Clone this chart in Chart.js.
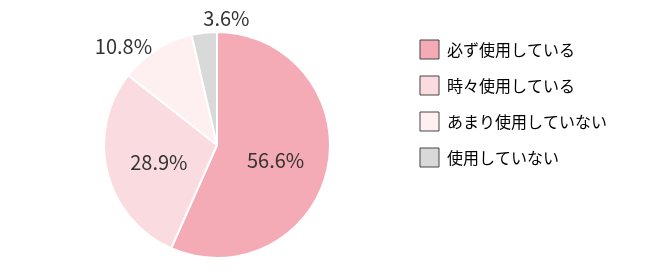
<!DOCTYPE html>
<html>
<head>
<meta charset="utf-8">
<script src="https://cdn.jsdelivr.net/npm/chart.js@4"></script>
<style>
  html, body { margin: 0; padding: 0; background: #fff; }
  #wrap { width: 650px; height: 274px; }
</style>
</head>
<body>
<div id="wrap"><canvas id="chart"></canvas></div>
<script>
const labels = ['必ず使用している', '時々使用している', 'あまり使用していない', '使用していない'];
const shares = [56.6, 28.9, 10.8, 3.6];
const colors = ['#f5abb6', '#fadbe0', '#fef0f1', '#d9d9d9'];

const FONT = '"Noto Sans CJK JP", "Noto Sans", sans-serif';

// draws the percentage text on / beside each slice
const sliceLabels = {
  id: 'sliceLabels',
  afterDatasetsDraw(chart) {
    const { ctx } = chart;
    const meta = chart.getDatasetMeta(0);
    ctx.save();
    ctx.font = '20px ' + FONT;
    ctx.fillStyle = '#333';
    meta.data.forEach((arc, i) => {
      const mid = (arc.startAngle + arc.endAngle) / 2;
      const r = arc.outerRadius;
      const big = shares[i] > 20;
      const dist = big ? r * 0.53 : r + 8;
      const x = arc.x + Math.cos(mid) * dist;
      const y = arc.y + Math.sin(mid) * dist;
      if (big) {
        ctx.textAlign = 'center';
        ctx.textBaseline = 'middle';
      } else {
        const dx = x - arc.x;
        ctx.textAlign = dx < -20 ? 'right' : 'left';
        ctx.textBaseline = Math.abs(dx) < 20 ? 'bottom' : 'middle';
      }
      ctx.fillText(shares[i].toFixed(1) + '%', x, y + (big ? 3 : 4));
    });
    ctx.restore();
  }
};

// nudge the legend block to where the original puts it
const legendShift = {
  id: 'legendShift',
  afterLayout(chart) {
    const lg = chart.legend;
    lg.left -= 19; lg.right -= 19;
    lg.top -= 8; lg.bottom -= 8;
  }
};

new Chart(document.getElementById('chart'), {
  type: 'pie',
  data: {
    labels: labels,
    datasets: [{
      data: shares,
      backgroundColor: colors,
      borderColor: '#ffffff',
      borderWidth: 2
    }]
  },
  options: {
    responsive: true,
    maintainAspectRatio: false,
    animation: false,
    layout: { padding: { top: 31, bottom: 15, left: 12, right: 14 } },
    plugins: {
      tooltip: { enabled: false },
      legend: {
        position: 'right',
        align: 'start',
        labels: {
          font: { family: FONT, size: 16 },
          color: '#333',
          boxWidth: 19,
          boxHeight: 19,
          padding: 17,
          generateLabels(chart) {
            return labels.map((t, i) => ({
              text: t,
              fillStyle: colors[i],
              strokeStyle: '#444',
              lineWidth: 1,
              index: i,
              hidden: false
            }));
          }
        }
      }
    }
  },
  plugins: [sliceLabels, legendShift]
});
</script>
</body>
</html>
